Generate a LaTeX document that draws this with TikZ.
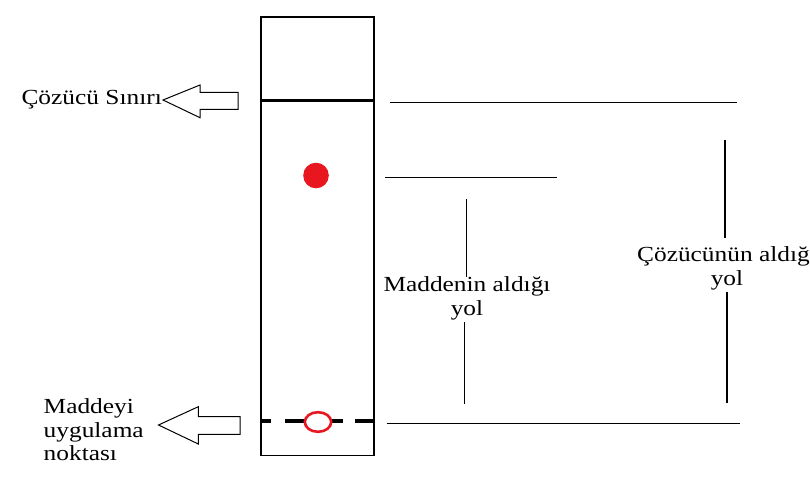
\documentclass[tikz,border=0pt]{standalone}
\usepackage{fontspec}
\setmainfont{Liberation Serif}[FakeStretch=1.18]
\usetikzlibrary{positioning}
\definecolor{spotred}{RGB}{232,22,30}

\tikzset{
  lbl/.style={font=\fontsize{21.5}{23.5}\selectfont, inner sep=0pt, align=center},
  guide/.style={line width=1.3pt},
  bigarrow/.style={draw, line width=1pt, fill=white}
}

\begin{document}
\begin{tikzpicture}[x=1pt, y=-1pt]
\useasboundingbox (0,0) rectangle (810,484);

% TLC plate
\draw[line width=1.4pt] (261,17) rectangle (374,455.5);
\draw[line width=3pt] (261,101) -- (374,101);
\foreach \a/\b in {261/271, 285/343, 355/374}
  \draw[line width=3.2pt] (\a,421) -- (\b,421);
\fill[spotred] (316,175.5) circle (12.8);
\draw[spotred, line width=2.6pt, fill=white] (318,422) ellipse (13.2 and 9.8);

% arrows on the left
\coordinate (tipA) at (163,100);
\coordinate (tipB) at (158.5,425);
\draw[bigarrow] (tipA) -- (200,85) -- (200,92.3) -- (238,92.3) -- (238,109.3)
  -- (200,109.3) -- (200,117.7) -- cycle;
\draw[bigarrow] (tipB) -- (198.3,406.7) -- (198.3,416.7) -- (240,416.7) -- (240,434.3)
  -- (198.3,434.3) -- (198.3,444) -- cycle;
\node[lbl, left=1pt of tipA] (front) {Çözücü Sınırı};
\node[lbl, align=left, anchor=west] (spot) at (43.5,430) {Maddeyi\\uygulama\\noktası};

% distances on the right
\coordinate (frontL) at (390,102.5);
\coordinate (frontR) at (737,102.5);
\coordinate (dotL) at (385,177.7);
\coordinate (dotR) at (556.5,177.7);
\coordinate (baseL) at (386.5,423.3);
\coordinate (baseR) at (740,423.3);
\draw[guide] (frontL) -- (frontR);
\draw[guide] (dotL) -- (dotR);
\draw[guide] (baseL) -- (baseR);

\node[lbl] (madde) at (467,298.5) {Maddenin aldığı\\yol};
\node[lbl] (cozucu) at (727,268.5) {Çözücünün aldığı\\yol};
\coordinate (maddeT) at (466.5,199);
\coordinate (maddeB) at (464.5,404);
\coordinate (cozucuT) at (725,140);
\coordinate (cozucuB) at (727,403);
\draw[guide] (maddeT) -- (maddeT |- 0,277);
\draw[guide] (maddeB) -- (maddeB |- 0,322);
\draw[guide] (cozucuT) -- (cozucuT |- 0,238);
\draw[guide] (cozucuB) -- (cozucuB |- 0,292);
\end{tikzpicture}
\end{document}
